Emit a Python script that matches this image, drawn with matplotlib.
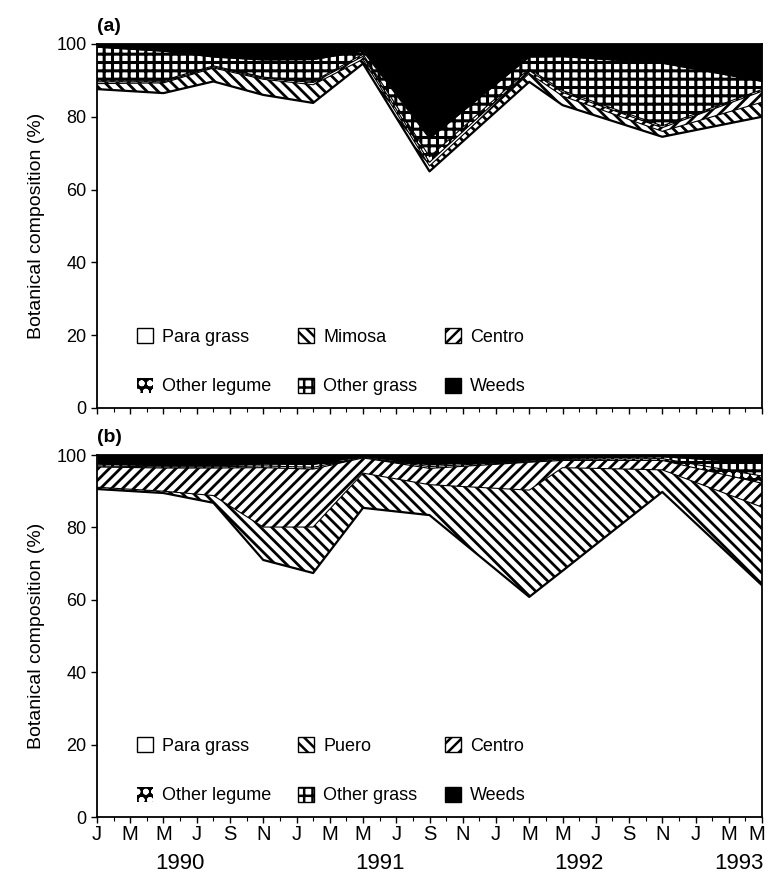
# Botanical composition stacked areas, panels (a) and (b)
import numpy as np
import matplotlib
matplotlib.use('Agg')
import matplotlib.pyplot as plt
from matplotlib.patches import Patch
from matplotlib.transforms import ScaledTranslation

plt.rcParams['font.family'] = ['Liberation Sans', 'DejaVu Sans']
plt.rcParams['hatch.linewidth'] = 1.8

# sample dates, months counted from Jan 1990
months = [0, 4, 7, 10, 13, 16, 20, 26, 28, 34, 40]

# panel (a)
a_para   = [87.6, 86.5, 89.7, 86.0, 83.8, 94.6, 65.0, 89.6, 83.2, 74.5, 80.0]
a_mimosa = [1.5, 2.8, 3.7, 4.3, 5.0, 1.2, 1.5, 2.3, 2.5, 1.5, 4.0]
a_centro = [0.5, 0.3, 0.3, 0.3, 0.6, 0.8, 1.0, 0.8, 1.0, 1.0, 3.0]
a_oleg   = [0.5, 0.4, 0.3, 0.3, 0.3, 0.6, 1.5, 0.5, 0.5, 0.5, 0.5]
a_ograss = [9.0, 8.0, 2.4, 4.7, 6.0, 0.8, 5.0, 3.2, 9.3, 17.2, 2.2]
a_weeds  = [0.9, 2.0, 3.6, 4.4, 4.3, 2.0, 26.0, 3.6, 3.5, 5.3, 10.3]

# panel (b)
b_para   = [90.6, 89.5, 86.8, 71.0, 67.4, 85.4, 83.4, 60.8, 68.0, 89.8, 64.0]
b_puero  = [0.5, 0.5, 2.0, 9.1, 12.7, 9.6, 8.4, 29.5, 28.5, 6.1, 21.6]
b_centro = [5.6, 6.4, 7.6, 16.4, 16.0, 4.2, 4.5, 7.7, 2.0, 2.6, 6.6]
b_oleg   = [0.3, 0.3, 0.3, 0.5, 0.5, 0.2, 0.5, 0.3, 0.3, 0.5, 2.0]
b_ograss = [0.5, 0.3, 0.3, 0.5, 0.8, 0.2, 0.5, 0.3, 0.3, 0.5, 3.6]
b_weeds  = [2.5, 3.0, 3.0, 2.5, 2.6, 0.4, 2.7, 1.4, 0.9, 0.5, 2.2]

month_labels = ['J', 'M', 'M', 'J', 'S', 'N'] * 3 + ['J', 'M', 'M']
years = ['1990', '1991', '1992', '1993']
year_pos = [5, 17, 29, 38.6]

# (face, hatch colour, hatch, hatch width) for each layer, bottom to top
styles = [
    ('white', 'black', None, 1.0),
    ('white', 'black', '\\\\\\', 2.0),
    ('white', 'black', '///', 2.0),
    ('black', 'white', 'oo', 1.6),
    ('white', 'black', '++', 2.2),
    ('black', 'black', None, 1.0),
]


def draw_panel(ax, layers, names, tag):
    x = np.array(months)
    vals = np.array(layers, dtype=float)
    tops = np.cumsum(vals, axis=0)
    bottoms = np.vstack([np.zeros(len(x)), tops[:-1]])
    handles = []
    for i, (fc, hc, h, hw) in enumerate(styles):
        with plt.rc_context({'hatch.linewidth': hw}):
            ax.fill_between(x, bottoms[i], tops[i], facecolor=fc, edgecolor=hc,
                            hatch=h, linewidth=0)
            handles.append(Patch(facecolor=fc, edgecolor=hc, hatch=h,
                                 label=names[i], linewidth=0 if hc == 'white' else 1))
        ax.plot(x, tops[i], color='black', lw=1.6 if i == 0 else 0.8)
    ax.set_xlim(0, 40)
    ax.set_ylim(0, 100)
    ax.set_yticks(range(0, 101, 20))
    ax.set_xticks(range(0, 41, 2))
    ax.set_xticks(range(1, 40, 2), minor=True)
    ax.tick_params(axis='both', direction='out', labelsize=13, length=4, width=1)
    ax.tick_params(axis='x', which='minor', length=3, width=0.8)
    for s in ax.spines.values():
        s.set_linewidth(1.3)
    ax.set_ylabel('Botanical composition (%)', fontsize=14, labelpad=8)
    order = [0, 3, 1, 4, 2, 5]
    ax.legend([handles[k] for k in order], [names[k] for k in order], ncol=3,
              loc='lower left', bbox_to_anchor=(0.035, -0.01), frameon=False,
              fontsize=13, handlelength=0.9, handleheight=0.9,
              handletextpad=0.5, columnspacing=1.5, labelspacing=1.75)
    ax.text(0.0, 1.025, tag, transform=ax.transAxes, fontsize=14,
            fontweight='bold', ha='left', va='bottom')


fig = plt.figure(figsize=(7.68, 8.74), dpi=100)
ax_a = fig.add_axes([0.1263, 0.5332, 0.8659, 0.4165])
ax_b = fig.add_axes([0.1263, 0.0652, 0.8659, 0.4142])

draw_panel(ax_a, [a_para, a_mimosa, a_centro, a_oleg, a_ograss, a_weeds],
           ['Para grass', 'Mimosa', 'Centro', 'Other legume', 'Other grass', 'Weeds'], '(a)')
draw_panel(ax_b, [b_para, b_puero, b_centro, b_oleg, b_ograss, b_weeds],
           ['Para grass', 'Puero', 'Centro', 'Other legume', 'Other grass', 'Weeds'], '(b)')

ax_a.tick_params(axis='x', labelbottom=False)
ax_b.set_xticklabels(month_labels, fontsize=14.5)
ax_b.tick_params(axis='x', pad=2)
# pull the last "M" inside the figure edge
last = ax_b.get_xticklabels()[-1]
last.set_transform(last.get_transform() + ScaledTranslation(-4 / 72, 0, fig.dpi_scale_trans))
for yr, pos in zip(years, year_pos):
    ax_b.text(pos, -0.1, yr, transform=ax_b.get_xaxis_transform(),
              ha='center', va='top', fontsize=16)

fig.savefig('out.png', dpi=100)
